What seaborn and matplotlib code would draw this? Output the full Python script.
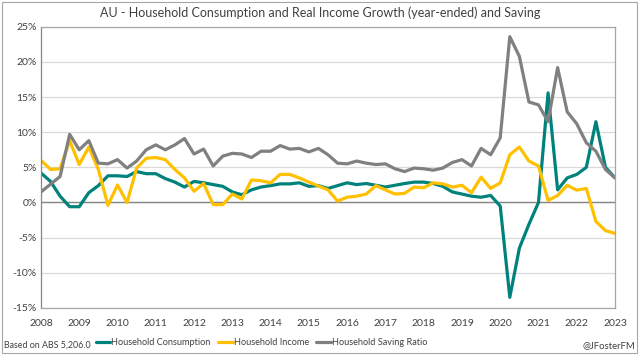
import matplotlib
matplotlib.use("Agg")
import matplotlib.pyplot as plt
import seaborn as sns
import pandas as pd
import numpy as np
from matplotlib.patches import Rectangle
from matplotlib.ticker import FuncFormatter

years = list(range(2008, 2024))

consumption = [4.2, 3.0, 0.9, -0.6, -0.6, 1.4, 2.4, 3.8, 3.8, 3.7,
               4.4, 4.1, 4.1, 3.4, 2.9, 2.2, 3.0, 2.8, 2.55, 2.3,
               1.5, 1.1, 1.8, 2.2, 2.4, 2.65, 2.65, 2.8, 2.3, 2.4,
               2.0, 2.4, 2.8, 2.55, 2.7, 2.45, 2.2, 2.45, 2.7, 2.9,
               2.9, 2.7, 2.3, 1.5, 1.2, 0.9, 0.75, 1.0, -0.5, -13.5,
               -6.5, -3.1, 0.0, 15.6, 1.8, 3.5, 4.0, 5.0, 11.5, 5.0,
               3.5]

income = [6.0, 4.7, 4.8, 8.8, 5.4, 7.9, 4.7, -0.4, 2.5, 0.0,
          4.9, 6.3, 6.4, 6.1, 4.7, 3.5, 1.6, 2.7, -0.3, -0.3,
          1.2, 0.5, 3.2, 3.1, 2.8, 4.0, 4.0, 3.5, 2.9, 2.35,
          1.8, 0.2, 0.75, 0.9, 1.2, 2.4, 1.8, 1.2, 1.3, 2.2,
          2.1, 2.8, 2.65, 2.2, 2.45, 1.4, 3.6, 2.0, 2.8, 6.8,
          7.9, 5.9, 5.2, 0.3, 1.0, 2.45, 1.75, 2.0, -2.7, -4.0,
          -4.4]

saving = [1.5, 2.6, 3.7, 9.7, 7.5, 8.8, 5.6, 5.5, 6.1, 4.9,
          5.9, 7.5, 8.2, 7.5, 8.2, 9.1, 6.9, 7.6, 5.2, 6.6,
          7.0, 6.9, 6.4, 7.3, 7.3, 8.1, 7.6, 7.7, 7.2, 7.7,
          6.8, 5.6, 5.5, 5.9, 5.6, 5.4, 5.5, 4.8, 4.4, 4.9,
          4.8, 4.6, 4.9, 5.7, 6.1, 5.2, 7.7, 6.8, 9.2, 23.6,
          20.8, 14.3, 13.9, 11.5, 19.2, 12.9, 11.2, 8.5, 7.3, 4.7,
          3.5]

series_names = ["Household Consumption", "Household Income", "Household Saving Ratio"]
colors = ["#00827C", "#FFC000", "#808080"]

n = len(saving)
df = pd.DataFrame({
    "q": list(range(n)) * 3,
    "value": consumption + income + saving,
    "series": [series_names[0]] * n + [series_names[1]] * n + [series_names[2]] * n,
})

sns.set_theme(style="white")
plt.rcParams["font.family"] = ["Lato", "DejaVu Sans"]

fig = plt.figure(figsize=(6.4, 3.58), dpi=100)
ax = fig.add_axes([0.064, 0.14, 0.897, 0.785])

sns.lineplot(data=df, x="q", y="value", hue="series", hue_order=series_names,
             palette=dict(zip(series_names, colors)), linewidth=2.3, ax=ax,
             legend=False)

ax.set_xlim(0, n - 1)
ax.set_ylim(-15, 25)
ax.set_yticks(range(-15, 30, 5))
ax.yaxis.set_major_formatter(FuncFormatter(lambda v, p: f"{int(v)}%"))
ax.set_xticks(range(0, n, 4))
ax.set_xticklabels([str(y) for y in years])
ax.grid(axis="y", color="#D9D9D9", linewidth=0.9)
ax.set_axisbelow(True)
ax.axhline(0, color="#868686", linewidth=1.0, zorder=1)
ax.set_xlabel("")
ax.set_ylabel("")
for s in ax.spines.values():
    s.set_color("#A6A6A6")
    s.set_linewidth(0.9)
ax.spines["left"].set_color("#868686")
ax.tick_params(axis="both", labelsize=7.5, colors="#404040", length=0, pad=3)
ax.tick_params(axis="x", pad=8)

fig.text(0.5, 0.965, "AU - Household Consumption and Real Income Growth (year-ended) and Saving",
         ha="center", va="center", fontsize=9, color="#404040")
fig.text(0.006, 0.035, "Based on ABS 5,206.0", ha="left", va="center", fontsize=6.4, color="#404040")
fig.text(0.993, 0.035, "@JFosterFM", ha="right", va="center", fontsize=6.8, color="#404040")

handles = [plt.Line2D([], [], color=c, linewidth=2.3) for c in colors]
fig.legend(handles, series_names, loc="center left", bbox_to_anchor=(0.148, 0.042),
           ncol=3, frameon=False, fontsize=6.6, handlelength=1.6, handletextpad=0.1,
           columnspacing=0.8, labelcolor="#404040", borderpad=0.1, borderaxespad=0)

fig.patches.append(Rectangle((0.003, 0.015), 0.992, 0.98, transform=fig.transFigure,
                             fill=False, edgecolor="#A6A6A6", linewidth=0.8))

fig.savefig("out.png", dpi=100)
